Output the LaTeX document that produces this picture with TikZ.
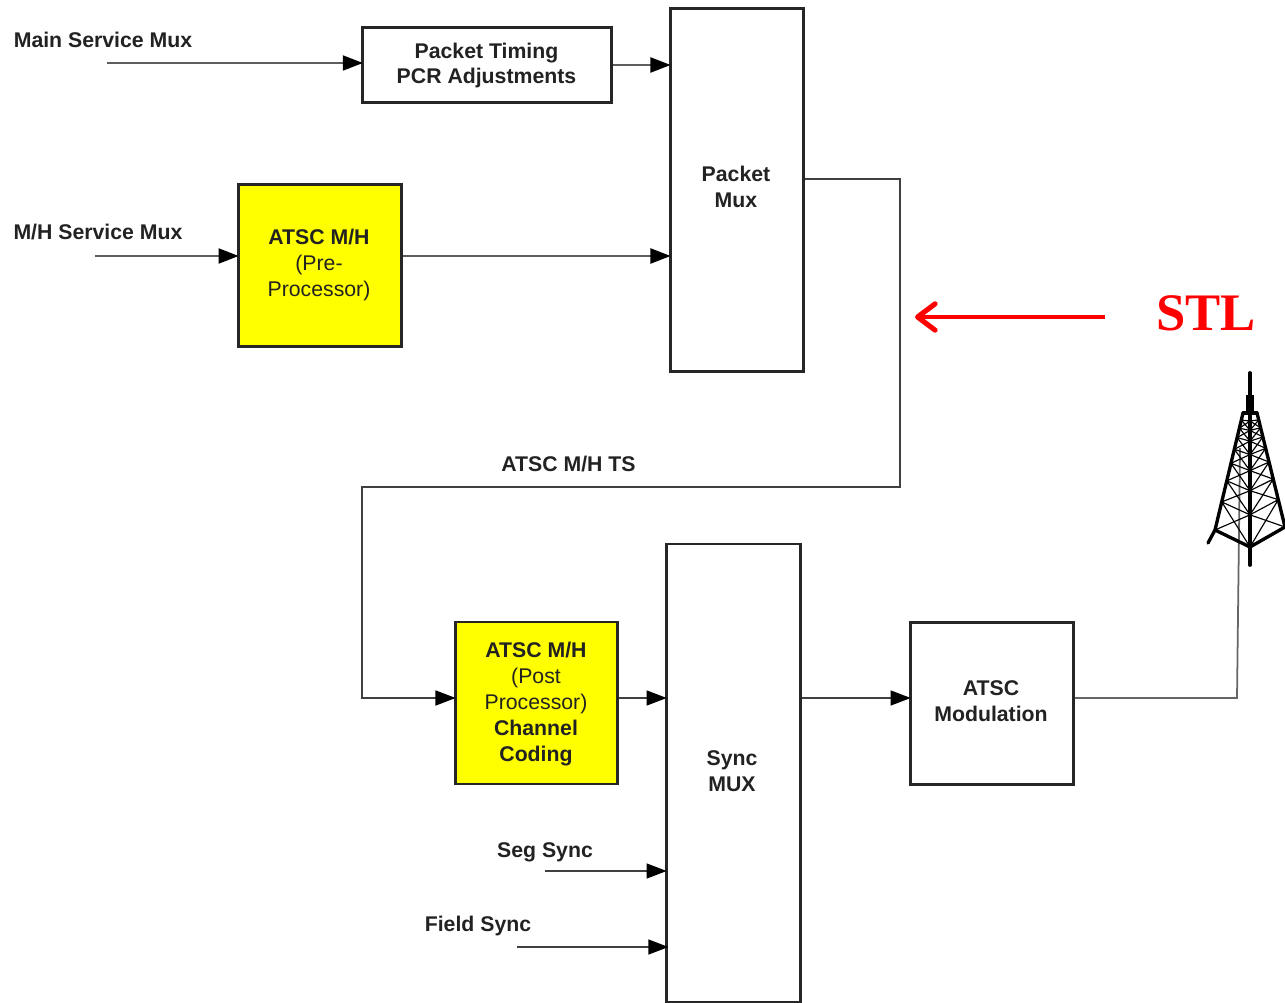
\documentclass[tikz,border=0pt]{standalone}
\usepackage{fontspec}
\setmainfont{Liberation Sans}
\newfontfamily\stlfont{Liberation Serif}
\usetikzlibrary{arrows.meta,calc}
\definecolor{mhyellow}{HTML}{FFFF00}
\definecolor{wire}{HTML}{404040}
\definecolor{lbl}{HTML}{222222}
\begin{document}
\begin{tikzpicture}[x=0.02cm, y=-0.02cm, >={Triangle[length=11.5pt,width=8.5pt,color=black]},
    block/.style={draw=black!85, line width=1.5pt, fill=white, inner sep=0pt, align=center, text=lbl,
        font=\fontsize{12.2}{14.5}\selectfont\bfseries},
    mhblock/.style={block, fill=mhyellow},
    lab/.style={inner sep=0pt, text=lbl, font=\fontsize{12.1}{14.7}\selectfont\bfseries},
    wireline/.style={draw=wire, line width=1pt, shorten >=-1pt},
    wireheavy/.style={wireline, draw=wire!85, line width=1.3pt},
    mast/.style={draw=black, line cap=round}]
    \useasboundingbox (0,0) rectangle (1285,1003);

    % ==== BLOCKS ====
    \node[block, minimum width=141.7pt, minimum height=43pt] (timing) at (487,65) {};
    \node[block, minimum width=76pt, minimum height=206.8pt] (pmux) at (737,190) {};
    \node[mhblock, minimum width=93pt, minimum height=92.5pt] (pre) at (320,265.5) {};
    \node[mhblock, minimum width=92.5pt, minimum height=92pt] (post) at (536.5,703) {};
    \node[block, minimum width=76.5pt, minimum height=260.5pt] (smux) at (733.5,773) {};
    \node[block, minimum width=93pt, minimum height=92.5pt] (mod) at (992,703.5) {};

    % ==== BLOCK TEXTS ====
    \node[lab, align=center] (timingtxt) at (486.5,65.5) {Packet Timing\\PCR Adjustments};
    \node[lab, align=center] (pmuxtxt) at (736,186.5) {Packet\\Mux};
    \node[lab, align=center] (smuxtxt) at (732,771) {Sync\\MUX};
    \node[lab, align=center] (modtxt) at (991,701.5) {ATSC\\Modulation};
    \node[lab, align=center] (pretxt) at (319,265) {ATSC M/H\\{\mdseries (Pre-}\\{\mdseries Processor)}};
    \node[lab, align=center] (posttxt) at (536,704) {ATSC M/H\\{\mdseries (Post}\\{\mdseries Processor)}\\Channel\\Coding};

    % ==== LABELS ====
    \node[lab] (mainlab) at (103,40) {Main Service Mux};
    \node[lab] (mhlab) at (98,232.5) {M/H Service Mux};
    \node[lab] (tslab) at (568.5,464) {ATSC M/H TS};
    \node[lab] (seglab) at (545,852.5) {Seg Sync};
    \node[lab] (fieldlab) at (478,925.5) {Field Sync};

    % ==== FREE ENDS ====
    \coordinate (mainin) at (107,63);
    \coordinate (mhin) at (95,256);
    \coordinate (tsout) at (900,179);
    \coordinate (tsleft) at (362,487);
    \coordinate (chain) at (362,698);
    \coordinate (segin) at (545,871);
    \coordinate (fieldin) at (517,947);
    \coordinate (feed) at (1237,698);
    \coordinate (feedtop) at (1240,450);

    % ==== CONNECTORS ====
    \draw[wireheavy, ->] (mainin) -- (timing.west |- mainin);
    \draw[wireheavy, ->] (timing.east) -- (pmux.west |- timing.east);
    \draw[wireheavy, ->] (mhin) -- (pre.west |- mhin);
    \draw[wireheavy, ->] (pre.east |- mhin) -- (pmux.west |- mhin);
    \draw[wireline, ->] (tsout -| pmux.east) -- (tsout) -- (tsout |- tsleft) -- (tsleft) -- (chain) -- (post.west |- chain);
    \draw[wireline, ->] (post.east |- chain) -- (smux.west |- chain);
    \draw[wireline, ->] (smux.east |- chain) -- (mod.west |- chain);
    \draw[wireline, ->] (segin) -- (smux.west |- segin);
    \draw[wireline, ->] (fieldin) -- ($(smux.west |- fieldin)+(1pt,0)$);
    \draw[wireline, draw=wire!80] (mod.east |- feed) -- (feed) -- (feedtop);

    % ==== STL ====
    \coordinate (stlstart) at (1105,317);
    \coordinate (stlend) at (915,317);
    \draw[red, line width=2.7pt, -{Straight Barb[length=10pt,width=15pt,line width=2.9pt,round]}] (stlstart) -- (stlend);
    \node[inner sep=0pt, text=red, font=\stlfont\bfseries\fontsize{30}{30}\selectfont] (stl) at (1206,313) {STL};

    % ==== TOWER ====
    \coordinate (tl) at (1243,413);
    \coordinate (tr) at (1257,413);
    \coordinate (tc) at (1250,413);
    \coordinate (fl) at (1215,530);
    \coordinate (fr) at (1285,527);
    \coordinate (fc) at (1250,547);
    \draw[mast, line width=2.2pt] (1250,373) -- (1250,395);
    \draw[mast, line cap=butt, line width=4.8pt] (1250,395) -- (tc);
    \draw[mast, line width=2.2pt] (tc) -- (1250,565);
    \draw[mast, line width=1.9pt] (tl) -- (fl) -- (1208,543);
    \draw[mast, line width=1.9pt] (tr) -- (fr);
    \draw[mast, line width=1.9pt] (fl) -- (fc) -- (fr);
    \draw[mast, line width=1.9pt] (tl) -- (tr);
    \foreach \a/\b in {0.06/0.13, 0.13/0.21, 0.21/0.31, 0.31/0.43, 0.43/0.58, 0.58/0.76} {
        \draw[mast, line width=0.65pt]
            ($(tl)!\a!(fl)$) -- ($(tc)!\a!(fc)$) -- ($(tr)!\a!(fr)$)
            ($(tl)!\a!(fl)$) -- ($(tc)!\b!(fc)$) -- ($(tr)!\a!(fr)$)
            ($(tc)!\a!(fc)$) -- ($(tl)!\b!(fl)$)
            ($(tc)!\a!(fc)$) -- ($(tr)!\b!(fr)$);
    }
    \draw[mast, line width=0.65pt]
        ($(tl)!0.76!(fl)$) -- ($(tc)!0.76!(fc)$) -- ($(tr)!0.76!(fr)$)
        ($(tl)!0.76!(fl)$) -- (fc) -- ($(tr)!0.76!(fr)$)
        ($(tc)!0.76!(fc)$) -- (fl)
        ($(tc)!0.76!(fc)$) -- (fr);
\end{tikzpicture}
\end{document}
